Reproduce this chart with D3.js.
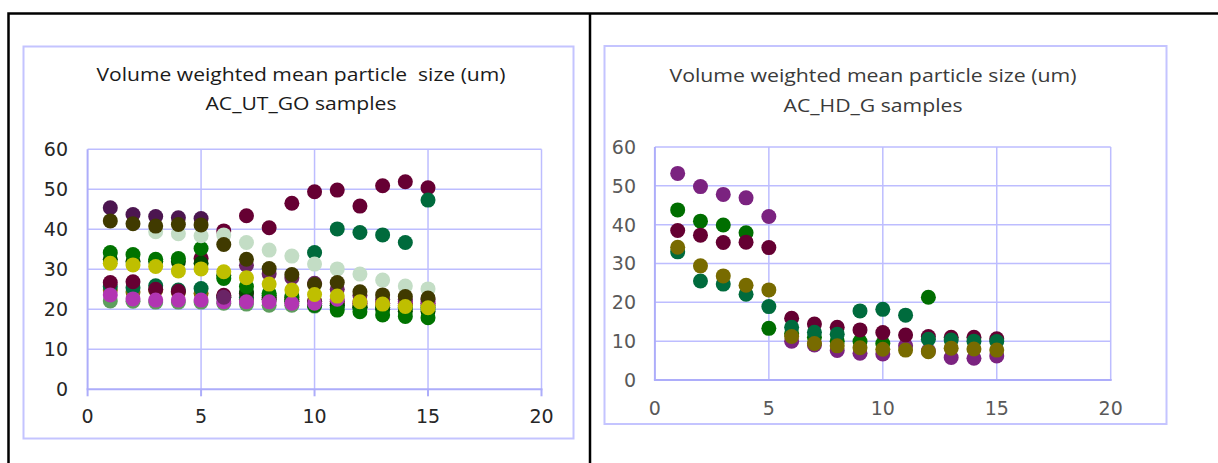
<!DOCTYPE html>
<html>
<head>
<meta charset="utf-8">
<script src="https://cdn.jsdelivr.net/npm/d3@7"></script>
<style>
  body { margin: 0; background: #fff; }
  svg { display: block; }
  .grid line { stroke: #bdbdff; stroke-width: 1.5; }
  .axis-line { stroke: #adadfa; stroke-width: 2; }
  .frame { fill: none; stroke: #c4c4ff; stroke-width: 2; }
</style>
</head>
<body>
<svg id="svg"></svg>
<script>
// sample number on the x axis
const samples = [1, 2, 3, 4, 5, 6, 7, 8, 9, 10, 11, 12, 13, 14, 15];
const xTicks = [0, 5, 10, 15, 20];
const yTicks = [0, 10, 20, 30, 40, 50, 60];

// AC_UT_GO series (drawn in this order)
const utMedGreen  = [22.1, 22.0, 21.8, 21.8, 21.8, 21.5, 21.3, 21.0, 21.0, 20.8, 20.5, 20.5, 20.5, 20.2, 20.0];
const utOlive     = [24.8, 24.3, 24.8, 24.2, 24.0, 23.2, 22.5, 22.5, 22.0, 22.0, 21.5, 21.0, 21.0, 21.0, 21.0];
const utTealLow   = [25.7, 25.4, 25.9, 24.8, 25.2, 23.0, 23.0, 22.5, 22.0, 21.0, 21.0, 20.5, 20.5, 20.5, 20.5];
const utMaroonLow = [26.7, 26.9, 25.0, 24.5, 32.7, 23.5, 24.0, 23.0, 23.0, 22.0, 22.0, 21.5, 21.5, 21.5, 21.5];
const utDarkGreen = [32.5, 32.0, 32.0, 31.9, 31.5, 28.5, 24.3, 23.5, 22.5, 21.5, 21.0, 20.5, 20.0, 19.5, 19.5];
const utGreen     = [34.2, 33.7, 32.5, 32.7, 35.2, 27.7, 25.7, 24.0, 23.3, 21.0, 19.8, 19.4, 18.6, 18.2, 17.9];
const utMagenta   = [23.6, 22.6, 22.3, 22.3, 22.3, 21.9, 21.9, 21.9, 21.5, 21.5, 22.5, 22.0, 21.5, 22.0, 22.0];
const utPurple    = [45.4, 43.7, 43.2, 42.9, 42.7, null, null, null, null, null, null, null, null, null, null];
const utPurple2   = [null, null, null, null, null, 23.0, 31.0, 28.9, 27.9, 26.5, 25.0, 23.5, 22.5, 22.5, 22.5];
const utMaroon    = [null, null, null, null, null, 39.6, 43.4, 40.4, 46.5, 49.4, 49.8, 45.8, 50.9, 51.9, 50.4];
const utTeal      = [null, null, null, null, null, null, null, null, null, 34.2, 40.1, 39.2, 38.6, 36.7, 47.3];
const utLightGrn  = [null, null, 39.4, 38.9, 38.4, 38.6, 36.7, 34.8, 33.3, 31.3, 30.1, 28.8, 27.3, 25.8, 25.1];
const utOliveDark = [42.1, 41.4, 40.8, 41.2, 41.1, 36.2, 32.5, 30.2, 28.7, 26.2, 26.7, 24.4, 23.6, 23.2, 22.8];
const utYellow    = [31.5, 31.1, 30.7, 29.6, 30.1, 29.4, 27.9, 26.3, 24.8, 23.7, 23.3, 21.9, 21.3, 20.7, 20.4];

// AC_HD_G series (drawn in this order)
const hdPurple = [53.2, 49.8, 47.8, 46.9, 42.1, 10.0, 9.0, 7.6, 6.9, 6.7, 8.8, 7.5, 5.8, 5.6, 6.2];
const hdGreen  = [43.8, 40.9, 39.9, 37.9, 13.3, 12.0, 11.0, 10.0, 9.9, 9.4, null, 21.3, null, null, null];
const hdMaroon = [38.5, 37.3, 35.4, 35.5, 34.1, 15.9, 14.4, 13.6, 12.9, 12.2, 11.6, 11.2, 11.0, 11.0, 10.6];
const hdTeal   = [33.0, 25.5, 24.7, 22.1, 18.9, 13.6, 12.3, 11.8, 17.8, 18.2, 16.7, 10.5, 10.3, 10.0, 9.9];
const hdOlive  = [34.2, 29.4, 26.8, 24.4, 23.2, 11.2, 9.4, 8.8, 8.3, 7.9, 7.7, 7.3, 8.2, 8.0, 7.7];

const svg = d3.select("svg")
    .attr("width", 1218)
    .attr("height", 463);

// table borders around the two charts
svg.append("path")
    .attr("d", "M8.5,463 V13.5 H1218 M590,13.5 V463")
    .attr("fill", "none")
    .attr("stroke", "#000")
    .attr("stroke-width", 2.5);

const drawChart = (cfg) => {
    const g = svg.append("g");

    g.append("rect").classed("frame", true)
        .attr("x", cfg.frame[0]).attr("y", cfg.frame[1])
        .attr("width", cfg.frame[2] - cfg.frame[0])
        .attr("height", cfg.frame[3] - cfg.frame[1]);

    const x = d3.scaleLinear().domain([0, 20]).range(cfg.xr);
    const y = d3.scaleLinear().domain([0, 60]).range(cfg.yr);

    const grid = g.append("g").classed("grid", true);
    grid.selectAll(".h")
        .data(yTicks.slice(1))
        .join("line")
            .attr("x1", x(0)).attr("x2", x(20))
            .attr("y1", d => y(d)).attr("y2", d => y(d));
    grid.selectAll(".v")
        .data(xTicks.slice(1))
        .join("line")
            .attr("y1", y(0)).attr("y2", y(60))
            .attr("x1", d => x(d)).attr("x2", d => x(d));

    // value axes
    g.append("line").classed("axis-line", true)
        .attr("x1", x(0)).attr("x2", x(0)).attr("y1", y(0)).attr("y2", y(60));
    g.append("line").classed("axis-line", true)
        .attr("x1", x(0) - 1).attr("x2", x(20) + 1).attr("y1", y(0)).attr("y2", y(0));

    if (cfg.tickMarks) {
        g.selectAll(".tm")
            .data(xTicks)
            .join("line")
                .attr("x1", d => x(d)).attr("x2", d => x(d))
                .attr("y1", y(0)).attr("y2", y(0) + 7)
                .attr("stroke", "#adadfa")
                .attr("stroke-width", 2);
    }

    g.append("g")
        .selectAll("text")
        .data(yTicks)
        .join("text")
            .attr("x", cfg.yLabelX)
            .attr("y", d => y(d))
            .attr("dy", "0.36em")
            .attr("text-anchor", "end")
            .attr("font-family", "DejaVu Sans")
            .attr("font-size", 19)
            .attr("fill", cfg.tickColor)
            .text(d => d);

    g.append("g")
        .selectAll("text")
        .data(xTicks)
        .join("text")
            .attr("x", d => x(d))
            .attr("y", cfg.xLabelY)
            .attr("dy", "0.36em")
            .attr("text-anchor", "middle")
            .attr("font-family", "DejaVu Sans")
            .attr("font-size", 19)
            .attr("fill", cfg.tickColor)
            .text(d => d);

    cfg.title.forEach((t, i) => {
        g.append("text")
            .attr("x", cfg.titleX)
            .attr("y", cfg.titleY[i])
            .attr("text-anchor", "middle")
            .attr("font-family", "Open Sans")
            .attr("font-size", 19)
            .attr("fill", cfg.titleColor)
            .attr("textLength", cfg.titleLen[i])
            .attr("lengthAdjust", "spacingAndGlyphs")
            .style("white-space", "pre")
            .text(t);
    });

    cfg.series.forEach(s => {
        g.append("g")
            .selectAll("circle")
            .data(samples.map((n, i) => [n, s.values[i]]).filter(d => d[1] != null))
            .join("circle")
                .attr("cx", d => x(d[0]))
                .attr("cy", d => y(d[1]))
                .attr("r", 7.5)
                .attr("fill", s.color);
    });
};

drawChart({
    frame: [23.5, 46.5, 573.5, 438.5],
    xr: [87.6, 541.5],
    yr: [389.3, 149.3],
    tickMarks: true,
    yLabelX: 68,
    xLabelY: 416,
    tickColor: "#262626",
    titleColor: "#1a1a1a",
    titleX: 301,
    titleY: [81, 110],
    titleLen: [409, 191],
    title: ["Volume weighted mean particle  size (um)", "AC_UT_GO samples"],
    series: [
        { values: utMedGreen,  color: "#5e9e5e" },
        { values: utOlive,     color: "#7f7000" },
        { values: utTealLow,   color: "#006a3c" },
        { values: utMaroonLow, color: "#660033" },
        { values: utDarkGreen, color: "#004a00" },
        { values: utGreen,     color: "#007300" },
        { values: utMagenta,   color: "#b235b2" },
        { values: utPurple,    color: "#4c1650" },
        { values: utPurple2,   color: "#6a2466" },
        { values: utMaroon,    color: "#660033" },
        { values: utTeal,      color: "#006a3c" },
        { values: utLightGrn,  color: "#c3ddc5" },
        { values: utOliveDark, color: "#403a00" },
        { values: utYellow,    color: "#bfbf00" }
    ]
});

drawChart({
    frame: [604.5, 46, 1166.5, 424],
    xr: [654.9, 1110.7],
    yr: [380, 147],
    tickMarks: false,
    yLabelX: 636,
    xLabelY: 408,
    tickColor: "#595959",
    titleColor: "#3a3a3a",
    titleX: 873,
    titleY: [82, 112],
    titleLen: [407, 179],
    title: ["Volume weighted mean particle size (um)", "AC_HD_G samples"],
    series: [
        { values: hdPurple, color: "#7b2380" },
        { values: hdGreen,  color: "#006e00" },
        { values: hdMaroon, color: "#650032" },
        { values: hdTeal,   color: "#006b3d" },
        { values: hdOlive,  color: "#786b00" }
    ]
});
</script>
</body>
</html>
